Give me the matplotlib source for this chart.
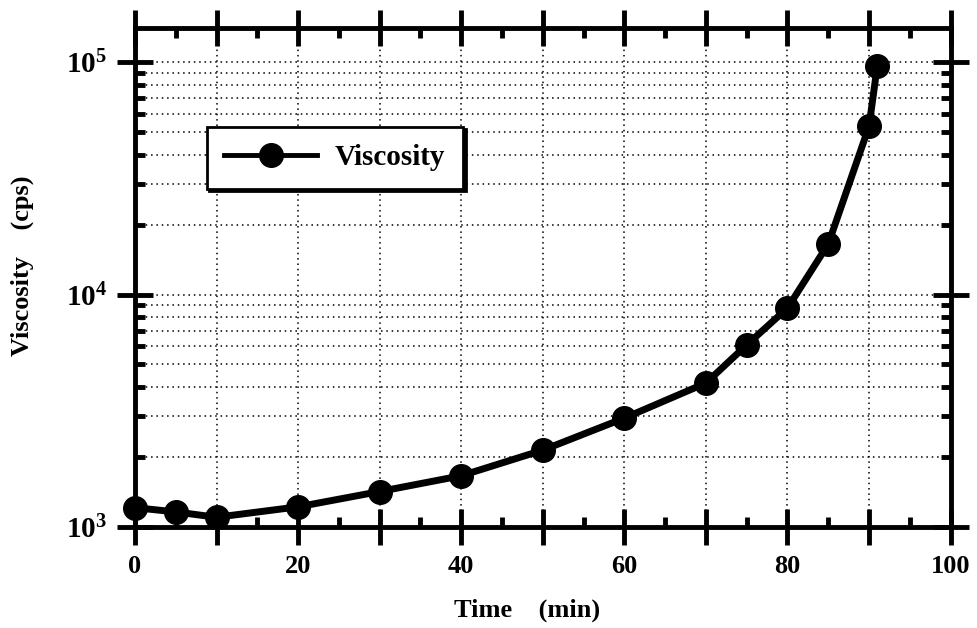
import numpy as np
import matplotlib
matplotlib.use('Agg')
import matplotlib.pyplot as plt
from matplotlib.ticker import MultipleLocator, LogLocator, NullFormatter

plt.rcParams['font.family'] = ['Liberation Serif', 'DejaVu Serif']
plt.rcParams['font.weight'] = 'bold'
plt.rcParams['axes.labelweight'] = 'bold'
plt.rcParams['mathtext.fontset'] = 'custom'
plt.rcParams['mathtext.rm'] = 'Liberation Serif:bold'
plt.rcParams['mathtext.bf'] = 'Liberation Serif:bold'

# data
time_min = [0, 5, 10, 20, 30, 40, 50, 60, 70, 75, 80, 85, 90, 91]
viscosity = [1210, 1160, 1100, 1220, 1420, 1660, 2140, 2940, 4160, 6070,
             8750, 16500, 53000, 96000]

x_ticks = [0, 10, 20, 30, 40, 50, 60, 70, 80, 90, 100]
x_tick_labels = ['0', '', '20', '', '40', '', '60', '', '80', '', '100']
y_ticks = [1e3, 1e4, 1e5]
y_tick_labels = [r'$\mathbf{10^{3}}$', r'$\mathbf{10^{4}}$', r'$\mathbf{10^{5}}$']

fig = plt.figure(figsize=(9.78, 6.28), dpi=100)
ax = fig.add_axes([0.138, 0.161, 0.834, 0.794])

ax.plot(time_min, viscosity, color='black', lw=5, marker='o', ms=17,
        label='Viscosity', zorder=5, clip_on=False)

ax.set_yscale('log')
ax.set_xlim(0, 100)
ax.set_ylim(1e3, 1.4e5)

ax.set_xticks(x_ticks)
ax.set_xticklabels(x_tick_labels, fontsize=19)
ax.xaxis.set_minor_locator(MultipleLocator(5))
ax.set_yticks(y_ticks)
ax.set_yticklabels(y_tick_labels, fontsize=21)
ax.yaxis.set_minor_locator(LogLocator(base=10, subs=np.arange(2, 10)))
ax.yaxis.set_minor_formatter(NullFormatter())

ax.tick_params(which='major', direction='inout', length=26, width=3.5,
               top=True, right=True, pad=7)
ax.tick_params(which='minor', direction='in', length=7, width=3.5,
               top=True, right=True)

for s in ax.spines.values():
    s.set_linewidth(3.5)

ax.grid(True, which='major', axis='both', color='black', lw=1.1,
        linestyle=(0, (1, 2.5)))
ax.grid(True, which='minor', axis='y', color='black', lw=1.1,
        linestyle=(0, (1, 2.5)))
ax.set_axisbelow(True)

ax.set_xlabel('Time    (min)', fontsize=19)
ax.set_ylabel('Viscosity    (cps)', fontsize=19)
ax.xaxis.set_label_coords(0.481, -0.143)
ax.yaxis.set_label_coords(-0.124, 0.523)

leg = ax.legend(loc='upper left', bbox_to_anchor=(0.07, 0.832),
                fontsize=21, fancybox=False, framealpha=1,
                edgecolor='black', handlelength=3.2, handletextpad=0.6,
                borderpad=0.6, shadow={'color': 'black', 'alpha': 1})
leg.get_frame().set_linewidth(2)
leg.get_lines()[0].set_linewidth(3.5)

fig.savefig('out.png', dpi=100)
